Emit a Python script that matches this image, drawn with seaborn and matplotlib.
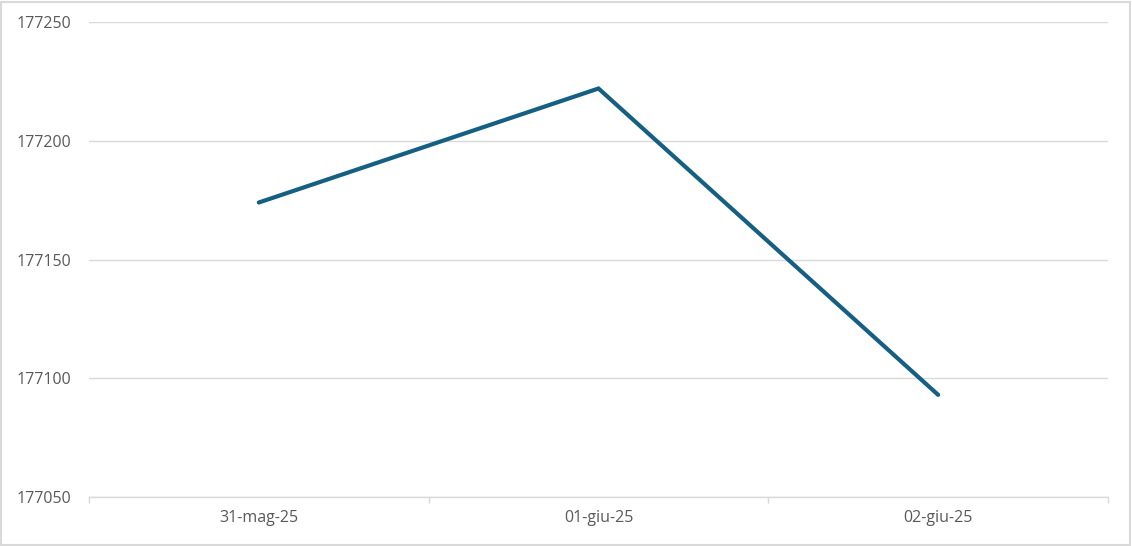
import matplotlib
matplotlib.use("Agg")
import matplotlib.pyplot as plt
import numpy as np
import pandas as pd
import seaborn as sns
from matplotlib.patches import Rectangle

# Data
dates = ["31-mag-25", "01-giu-25", "02-giu-25"]
values = [177174, 177222, 177093]
y_ticks = [177050, 177100, 177150, 177200, 177250]

df = pd.DataFrame({"pos": np.arange(len(dates)), "value": values})

sns.set_theme(style="white")
plt.rcParams['font.family'] = ['Open Sans', 'DejaVu Sans']

fig = plt.figure(figsize=(11.32, 5.46), dpi=100)
ax = fig.add_axes([89 / 1132, 1 - 497 / 546, (1108 - 89) / 1132, (497 - 22) / 546])

sns.lineplot(data=df, x="pos", y="value", ax=ax, color="#156082", linewidth=3.0,
             solid_capstyle="round", solid_joinstyle="miter")

ax.set_xlim(-0.5, len(dates) - 0.5)
ax.set_ylim(y_ticks[0], y_ticks[-1])
ax.set_yticks(y_ticks)
ax.set_yticklabels([str(v) for v in y_ticks])
ax.set_xticks(df["pos"])
ax.set_xticklabels(dates)
ax.set_xticks(np.arange(-0.5, len(dates), 1.0), minor=True)
ax.set_xlabel("")
ax.set_ylabel("")

# gridlines and axis styling
ax.grid(axis="y", color="#d9d9d9", linewidth=1.0)
ax.set_axisbelow(True)
for side in ["top", "right", "left"]:
    ax.spines[side].set_visible(False)
ax.spines["bottom"].set_color("#d9d9d9")
ax.spines["bottom"].set_linewidth(1.0)

ax.tick_params(axis="y", length=0, pad=12.5, labelsize=11.5, labelcolor="#595959")
ax.tick_params(axis="x", which="major", length=0, pad=9, labelsize=11.5, labelcolor="#595959")
ax.tick_params(axis="x", which="minor", length=4, width=1.0, color="#d9d9d9", bottom=True)

# thin light frame around the whole figure
fig.patches.append(Rectangle((0.001, 0.001), 0.997, 0.996, transform=fig.transFigure,
                             fill=False, edgecolor="#d9d9d9", linewidth=1.5))

fig.savefig("out.png", dpi=100)
